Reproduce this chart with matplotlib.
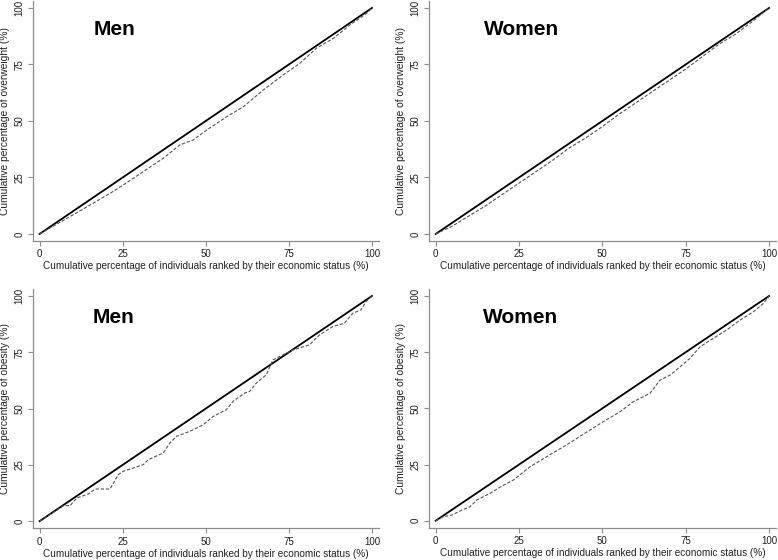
import matplotlib
matplotlib.use("Agg")
import matplotlib.pyplot as plt

plt.rcParams['font.family'] = ['Liberation Sans', 'DejaVu Sans']

# ---- data ----
ticks = [0, 25, 50, 75, 100]
equality = [0, 100]

# Men, overweight
men_ow_x = [0, 8.2, 15.2, 21.2, 25.2, 31.2, 37.2, 42.2, 46.2, 50.3, 56.3, 61.3, 67.3, 73.3, 78.3, 83.3, 88.4, 93.4, 98.4, 100]
men_ow_y = [0, 6.9, 12.8, 18.0, 21.7, 27.6, 33.5, 39.4, 41.6, 46.0, 51.9, 56.3, 63.7, 70.4, 75.5, 82.2, 86.6, 92.5, 97.6, 100]

# Women, overweight
women_ow_x = [0, 5, 10, 15, 20, 25, 30, 35, 40, 45, 50, 55, 60, 65, 70, 75, 80, 85, 90, 95, 100]
women_ow_y = [0, 3.5, 8, 12.5, 17.5, 22.5, 27.5, 32.5, 38, 42.5, 47.5, 53, 58, 63, 68, 73, 78.5, 84, 88.5, 94, 100]

# Men, obesity
men_ob_x = [0, 4.7, 7.2, 9.2, 11.2, 14.7, 16.7, 21.2, 23.7, 25.2, 28.2, 31.2, 32.7, 37.2, 39.2, 41.2, 45.2, 49.2, 52.2,
            56.2, 58.2, 61.7, 63.2, 65.2, 68.2, 70.2, 72.2, 76.2, 81.2, 84.2, 88.2, 91.7, 94.2, 96.7, 98.2, 100]
men_ob_y = [0, 4.4, 6.9, 6.9, 10.3, 12.1, 14.3, 14.3, 20.7, 22.2, 23.6, 25.1, 27.3, 30.3, 34.7, 37.7, 39.9, 42.8, 46.5,
            49.5, 53.2, 56.9, 57.6, 61.3, 65.0, 71.6, 73.1, 76.0, 78.3, 82.7, 86.4, 87.9, 92.3, 93.8, 97.5, 100]

# Women, obesity
women_ob_x = [0, 2.3, 4.8, 7.8, 10.3, 12.3, 16.3, 19.8, 23.3, 28.3, 33.3, 38.3, 42.3, 46.3, 50.3, 55.3, 59.3, 64.3,
              67.3, 70.3, 73.3, 76.3, 79.3, 83.3, 87.3, 91.3, 95.3, 98.3, 100]
women_ob_y = [0, 1.8, 2.5, 4.7, 6.2, 9.2, 12.2, 15.4, 18.1, 24.0, 28.5, 32.9, 36.6, 40.4, 44.1, 48.5, 53.0, 56.7,
              62.6, 64.8, 68.5, 72.3, 77.4, 81.2, 84.9, 89.3, 93.0, 96.7, 100]

xlabel = "Cumulative percentage of individuals ranked by their economic status (%)"

W, H = 778, 560
fig = plt.figure(figsize=(W / 100, H / 100), dpi=100)


def px_axes(left, top, right, bottom):
    return fig.add_axes([left / W, 1 - bottom / H, (right - left) / W, (bottom - top) / H])


panels = [
    # (left, top, right, bottom) px, title, ylabel, x, y, title x
    ((32.9, 1.2, 378.6, 241.0), "Men", "Cumulative percentage of overweight (%)", men_ow_x, men_ow_y, 16.4),
    ((429.0, 1.2, 775.7, 241.0), "Women", "Cumulative percentage of overweight (%)", women_ow_x, women_ow_y, 14.6),
    ((32.9, 289.2, 378.6, 528.2), "Men", "Cumulative percentage of obesity (%)", men_ob_x, men_ob_y, 16.0),
    ((429.0, 289.3, 775.7, 527.7), "Women", "Cumulative percentage of obesity (%)", women_ob_x, women_ob_y, 14.1),
]

grey = '#8c8c8c'
for box, title, ylab, xs, ys, tx in panels:
    ax = px_axes(*box)
    ax.plot(equality, equality, color='black', lw=1.3)
    ax.plot(xs, ys, color='#555555', lw=0.8, linestyle=(0, (3, 1.6)))
    ax.set_xlim(-2, 102)
    ax.set_ylim(-3.1, 103)
    ax.set_xticks(ticks)
    ax.set_yticks(ticks)
    ax.set_yticklabels([str(t) for t in ticks], rotation=90, va='center')
    ax.tick_params(axis='both', direction='out', length=3.5, width=0.8, color=grey,
                   labelsize=7, labelcolor='#222222', pad=2.5)
    for s in ['top', 'right']:
        ax.spines[s].set_visible(False)
    for s in ['left', 'bottom']:
        ax.spines[s].set_color(grey)
        ax.spines[s].set_linewidth(0.9)
    ax.set_xlabel(xlabel, fontsize=7.2, color='#222222', labelpad=1.5)
    ax.set_ylabel(ylab, fontsize=7.4, color='#222222', labelpad=3)
    ax.text(tx, 88, title, fontsize=15, fontweight='bold', color='black', ha='left', va='baseline')

fig.savefig("out.png", dpi=100)
